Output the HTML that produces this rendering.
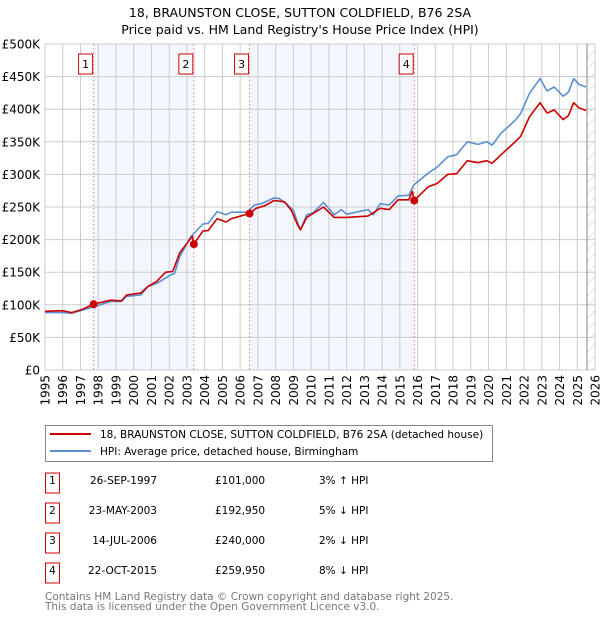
<!DOCTYPE html>
<html><head><meta charset="utf-8">
<style>
body{margin:0;background:#fff;font-family:"DejaVu Sans","Liberation Sans",sans-serif;}
svg text{font-family:"DejaVu Sans","Liberation Sans",sans-serif;}
</style></head>
<body>
<svg id="chart" width="600" height="620" xmlns="http://www.w3.org/2000/svg">
<text x="300" y="17" font-size="12.5" text-anchor="middle">18, BRAUNSTON CLOSE, SUTTON COLDFIELD, B76 2SA</text>
<text x="300" y="34" font-size="12.5" text-anchor="middle">Price paid vs. HM Land Registry's House Price Index (HPI)</text>
<g id="plot"></g>
<g>
<rect x="45.5" y="425.5" width="447" height="36" fill="#fff" stroke="#888"/>
<line x1="50" y1="434" x2="91" y2="434" stroke="#cc0000" stroke-width="2"/>
<text x="100" y="438" font-size="10.5">18, BRAUNSTON CLOSE, SUTTON COLDFIELD, B76 2SA (detached house)</text>
<line x1="50" y1="451" x2="91" y2="451" stroke="#5b8fd0" stroke-width="2"/>
<text x="100" y="455" font-size="10.5">HPI: Average price, detached house, Birmingham</text>
</g>
<g id="table" font-size="10.5"></g>
<text x="45" y="600" font-size="10.5" fill="#777">Contains HM Land Registry data © Crown copyright and database right 2025.</text>
<text x="45" y="610" font-size="10.5" fill="#777">This data is licensed under the Open Government Licence v3.0.</text>
</svg>
<script>
const hpiYears=[1995,1996,1996.5,1997,1997.74,1998.1,1998.7,1999.3,1999.6,2000.4,2000.8,2001.3,2002.1,2002.3,2002.6,2003.2,2003.9,2004.2,2004.7,2005.2,2005.5,2006.4,2006.8,2007.2,2007.9,2008.2,2008.6,2009.0,2009.25,2009.4,2009.75,2010.1,2010.7,2011.3,2011.7,2012.0,2013.2,2013.5,2013.9,2014.4,2014.9,2015.5,2015.8,2016.6,2017.1,2017.7,2018.2,2018.8,2019.4,2019.9,2020.2,2020.7,2021.5,2021.8,2022.3,2022.9,2023.3,2023.7,2024.2,2024.5,2024.8,2025.1,2025.5];
const hpiValues=[88,88,87,91,97,100,105,105,113,115,128,133,146,148,174,204,224,225,243,238,242,242,253,255,264,263,255,245,225,215,238,241,257,238,246,239,246,238,255,253,267,268,284,302,311,327,330,350,346,350,345,363,383,393,424,447,428,434,420,426,447,438,434];
const ppYears=[1995,1996,1996.5,1997.1,1997.74,1998.7,1999.3,1999.6,2000.4,2000.8,2001.3,2001.8,2002.2,2002.6,2003.3,2003.39,2003.9,2004.2,2004.7,2005.2,2005.5,2006.53,2006.9,2007.4,2007.9,2008.5,2008.9,2009.25,2009.4,2009.75,2010.7,2011.3,2012.0,2013.2,2013.9,2014.4,2014.9,2015.5,2015.7,2015.81,2016.6,2017.1,2017.7,2018.2,2018.8,2019.4,2019.9,2020.2,2020.7,2021.5,2021.8,2022.3,2022.9,2023.3,2023.7,2024.2,2024.5,2024.8,2025.1,2025.5];
const ppValues=[90,91,88,93,101,107,106,115,118,128,136,150,151,180,205,192.95,213,214,232,227,232,240,248,252,260,258,244,222,215,234,250,234,234,236,248,246,261,261,274,259.95,281,286,300,301,321,318,321,317,330,350,358,388,410,394,399,384,390,410,402,398];
const saleLabels=["1","2","3","4"];
const saleYears=[1997.74,2003.39,2006.53,2015.81];
const salePrices=[101,192.95,240,259.95];
const saleDates=["26-SEP-1997","23-MAY-2003","14-JUL-2006","22-OCT-2015"];
const salePriceText=["£101,000","£192,950","£240,000","£259,950"];
const saleDiffs=["3% ↑ HPI","5% ↓ HPI","2% ↓ HPI","8% ↓ HPI"];
const yTicks=[0,50,100,150,200,250,300,350,400,450,500];
const yTickLabels=["£0","£50K","£100K","£150K","£200K","£250K","£300K","£350K","£400K","£450K","£500K"];
const xYears=[1995,1996,1997,1998,1999,2000,2001,2002,2003,2004,2005,2006,2007,2008,2009,2010,2011,2012,2013,2014,2015,2016,2017,2018,2019,2020,2021,2022,2023,2024,2025,2026];

const X0=45,X1=595,Y0=370,Y1=44;
const xS=y=>X0+(y-1995)/(2026-1995)*(X1-X0);
const yS=v=>Y0-v/500*(Y0-Y1);
const NS="http://www.w3.org/2000/svg";
const plot=document.getElementById('plot');
function mk(tag,attrs,parent){const e=document.createElementNS(NS,tag);for(const k in attrs)e.setAttribute(k,attrs[k]);(parent||plot).appendChild(e);return e;}

for(let i=0;i<4;i+=2){
  const r=mk('rect',{x:xS(saleYears[i]),y:Y1,width:xS(saleYears[i+1])-xS(saleYears[i]),height:Y0-Y1,fill:'#f3f6fd'});
  
  
}
const defs=mk('defs',{});
const pat=mk('pattern',{id:'hatch',width:8,height:8,patternUnits:'userSpaceOnUse',patternTransform:'rotate(45)'},defs);
mk('line',{x1:0,y1:0,x2:0,y2:8,stroke:'#ccc','stroke-width':1},pat);
const hx=xS(2025.55);
const hr=mk('rect',{x:hx,y:Y1,width:X1-hx,height:Y0-Y1,fill:'url(#hatch)'});


yTicks.forEach((t,i)=>{
  const l=mk('line',{x1:X0,x2:X1,y1:yS(t),y2:yS(t),stroke:'#ccc','stroke-width':1});
  
  
  const tx=mk('text',{x:40,y:yS(t)+4.5,'font-size':12,'text-anchor':'end'});
  tx.textContent=yTickLabels[i];
  
  
});
xYears.forEach(yr=>{
  const l=mk('line',{x1:xS(yr),x2:xS(yr),y1:Y1,y2:Y0,stroke:'#ccc','stroke-width':1});
  
  
  const x=xS(yr)+4.5,y=375;
  const tx=mk('text',{x:x,y:y,'font-size':12,'text-anchor':'end',transform:`rotate(-90 ${x} ${y})`});
  tx.textContent=yr;
  
  
});
mk('line',{x1:hx,x2:hx,y1:Y1,y2:Y0,stroke:'#888','stroke-width':1});
saleYears.forEach((yr,i)=>{
  const l=mk('line',{x1:xS(yr),x2:xS(yr),y1:Y1,y2:Y0,stroke:'#f47a7a','stroke-width':1,'stroke-dasharray':'1.5,2.5'});
  
  
  const g=mk('g',{});
  
  
  mk('rect',{x:xS(yr)-15,y:54,width:14,height:20,fill:'#fff',stroke:'#cc0000'},g);
  const t=mk('text',{x:xS(yr)-8,y:68,'font-size':11,'text-anchor':'middle'},g);
  t.textContent=saleLabels[i];
});
function path(xs,vs,color,name){
  let d='';xs.forEach((yr,i)=>{d+=(i?'L':'M')+xS(yr).toFixed(1)+','+yS(vs[i]).toFixed(1);});
  const p=mk('path',{d:d,fill:'none',stroke:color,'stroke-width':1.6,'stroke-linejoin':'round'});
  
  
}
path(hpiYears,hpiValues,'#5b8fd0','hpi-line');
path(ppYears,ppValues,'#cc0000','price-paid-line');
saleYears.forEach((yr,i)=>{
  const c=mk('circle',{cx:xS(yr),cy:yS(salePrices[i]),r:4,fill:'#cc0000'});
  
  
});
const tbl=document.getElementById('table');
saleYears.forEach((yr,i)=>{
  const cy=483+i*30;
  const g=mk('g',{},tbl);
  
  
  mk('rect',{x:45.5,y:cy-10,width:14,height:20,fill:'#fff',stroke:'#cc0000'},g);
  const a=mk('text',{x:52.5,y:cy+1,'text-anchor':'middle'},g);a.textContent=saleLabels[i];
  const b=mk('text',{x:157,y:cy+1,'text-anchor':'end'},g);b.textContent=saleDates[i];
  const c=mk('text',{x:215,y:cy+1},g);c.textContent=salePriceText[i];
  const d=mk('text',{x:319,y:cy+1},g);d.textContent=saleDiffs[i];
});
</script>
</body></html>
